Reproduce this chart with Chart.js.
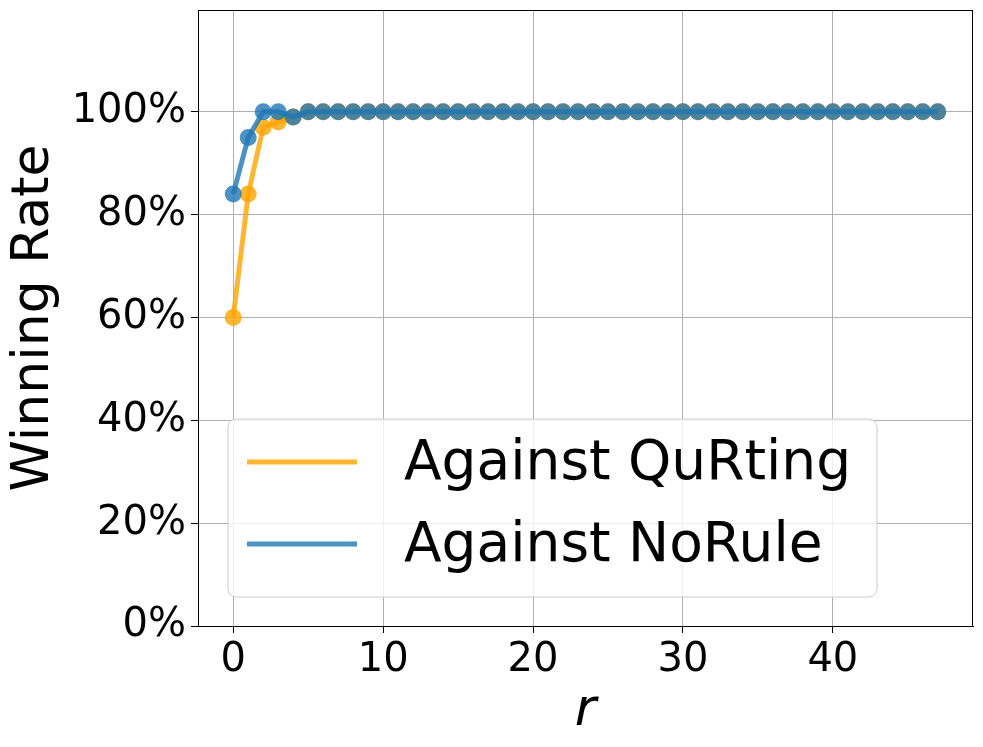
<!DOCTYPE html>
<html>
<head>
<meta charset="utf-8">
<script src="https://cdn.jsdelivr.net/npm/chart.js@4/dist/chart.umd.min.js"></script>
<style>
  html, body { margin: 0; padding: 0; background: #fff; }
  #wrap { width: 983px; height: 747px; }
</style>
</head>
<body>
<div id="wrap"><canvas id="winChart" width="983" height="747"></canvas></div>
<script>
// round index r
const rounds = [0, 1, 2, 3, 4, 5, 6, 7, 8, 9, 10, 11, 12, 13, 14, 15, 16, 17, 18, 19,
    20, 21, 22, 23, 24, 25, 26, 27, 28, 29, 30, 31, 32, 33, 34, 35, 36, 37, 38, 39,
    40, 41, 42, 43, 44, 45, 46, 47];

const vsQuRting = [0.60, 0.84, 0.97, 0.98, 0.99, 1, 1, 1, 1, 1, 1, 1, 1, 1, 1, 1, 1, 1, 1, 1,
    1, 1, 1, 1, 1, 1, 1, 1, 1, 1, 1, 1, 1, 1, 1, 1, 1, 1, 1, 1,
    1, 1, 1, 1, 1, 1, 1, 1];

const vsNoRule = [0.84, 0.95, 1, 1, 0.99, 1, 1, 1, 1, 1, 1, 1, 1, 1, 1, 1, 1, 1, 1, 1,
    1, 1, 1, 1, 1, 1, 1, 1, 1, 1, 1, 1, 1, 1, 1, 1, 1, 1, 1, 1,
    1, 1, 1, 1, 1, 1, 1, 1];

const seriesNames = ['Against QuRting', 'Against NoRule'];
const yTicks = [0, 0.2, 0.4, 0.6, 0.8, 1.0];
const xTicks = [0, 10, 20, 30, 40];

const FONT = "'DejaVu Sans', sans-serif";
const ORANGE = 'rgba(255, 165, 0, 0.8)';
const BLUE = 'rgba(31, 119, 180, 0.8)';

function toPoints(ys) {
    return rounds.map((r, i) => ({ x: r, y: ys[i] }));
}

// box around the plot + legend in lower left
const framePlugin = {
    id: 'frame',
    afterDraw(chart) {
        const { ctx, chartArea: a } = chart;
        ctx.save();
        ctx.strokeStyle = '#000';
        ctx.lineWidth = 1;
        ctx.strokeRect(a.left + 0.5, a.top + 0.5, a.right - a.left - 1, a.bottom - a.top);

        // legend
        const bx = a.left + 30, by = a.bottom - 207, bw = 649, bh = 178;
        ctx.beginPath();
        ctx.roundRect(bx, by, bw, bh, 8);
        ctx.fillStyle = 'rgba(255,255,255,0.8)';
        ctx.fill();
        ctx.strokeStyle = '#cccccc';
        ctx.stroke();

        ctx.font = '55px ' + FONT;
        ctx.textBaseline = 'middle';
        chart.data.datasets.forEach((ds, i) => {
            const cy = by + 43 + i * 82;
            ctx.strokeStyle = ds.borderColor;
            ctx.lineWidth = 5;
            ctx.beginPath();
            ctx.moveTo(bx + 19, cy);
            ctx.lineTo(bx + 129, cy);
            ctx.stroke();
            ctx.fillStyle = '#000';
            ctx.fillText(ds.label, bx + 176, cy + 3);
        });
        ctx.restore();
    }
};

const ctx = document.getElementById('winChart').getContext('2d');
const winChart = new Chart(ctx, {
    type: 'line',
    data: {
        datasets: [
            {
                label: seriesNames[0],
                data: toPoints(vsQuRting),
                borderColor: ORANGE,
                backgroundColor: ORANGE,
                borderWidth: 5,
                pointRadius: 8.5,
                pointBorderWidth: 0,
                order: 2
            },
            {
                label: seriesNames[1],
                data: toPoints(vsNoRule),
                borderColor: BLUE,
                backgroundColor: BLUE,
                borderWidth: 5,
                pointRadius: 8.5,
                pointBorderWidth: 0,
                order: 1
            }
        ]
    },
    options: {
        responsive: false,
        animation: false,
        events: [],
        layout: { padding: { top: 10, right: 10, left: 0, bottom: 0 } },
        plugins: {
            legend: { display: false },
            tooltip: { enabled: false }
        },
        scales: {
            x: {
                type: 'linear',
                min: -2.35,
                max: 49.35,
                afterBuildTicks: axis => { axis.ticks = xTicks.map(v => ({ value: v })); },
                afterFit: axis => { axis.height = 121; axis.paddingLeft = 0; axis.paddingRight = 0; },
                grid: { color: '#b0b0b0', lineWidth: 1, tickColor: '#000', tickLength: 7 },
                border: { color: '#000', width: 1 },
                ticks: {
                    color: '#000',
                    font: { family: FONT, size: 40 },
                    padding: 4,
                    maxRotation: 0
                },
                title: {
                    display: true,
                    text: 'r',
                    color: '#000',
                    font: { family: FONT, size: 52, style: 'italic' },
                    padding: { top: 0, bottom: 4 }
                }
            },
            y: {
                min: 0,
                max: 1.198,
                afterBuildTicks: axis => { axis.ticks = yTicks.map(v => ({ value: v })); },
                afterFit: axis => { axis.width = 198; axis.paddingTop = 0; axis.paddingBottom = 0; },
                grid: { color: '#b0b0b0', lineWidth: 1, tickColor: '#000', tickLength: 7 },
                border: { color: '#000', width: 1 },
                ticks: {
                    color: '#000',
                    font: { family: FONT, size: 40 },
                    padding: 5,
                    callback: v => Math.round(v * 100) + '%'
                },
                title: {
                    display: true,
                    text: 'Winning Rate',
                    color: '#000',
                    font: { family: FONT, size: 52 },
                    padding: { top: 3, bottom: 0 }
                }
            }
        }
    },
    plugins: [framePlugin]
});
</script>
</body>
</html>
